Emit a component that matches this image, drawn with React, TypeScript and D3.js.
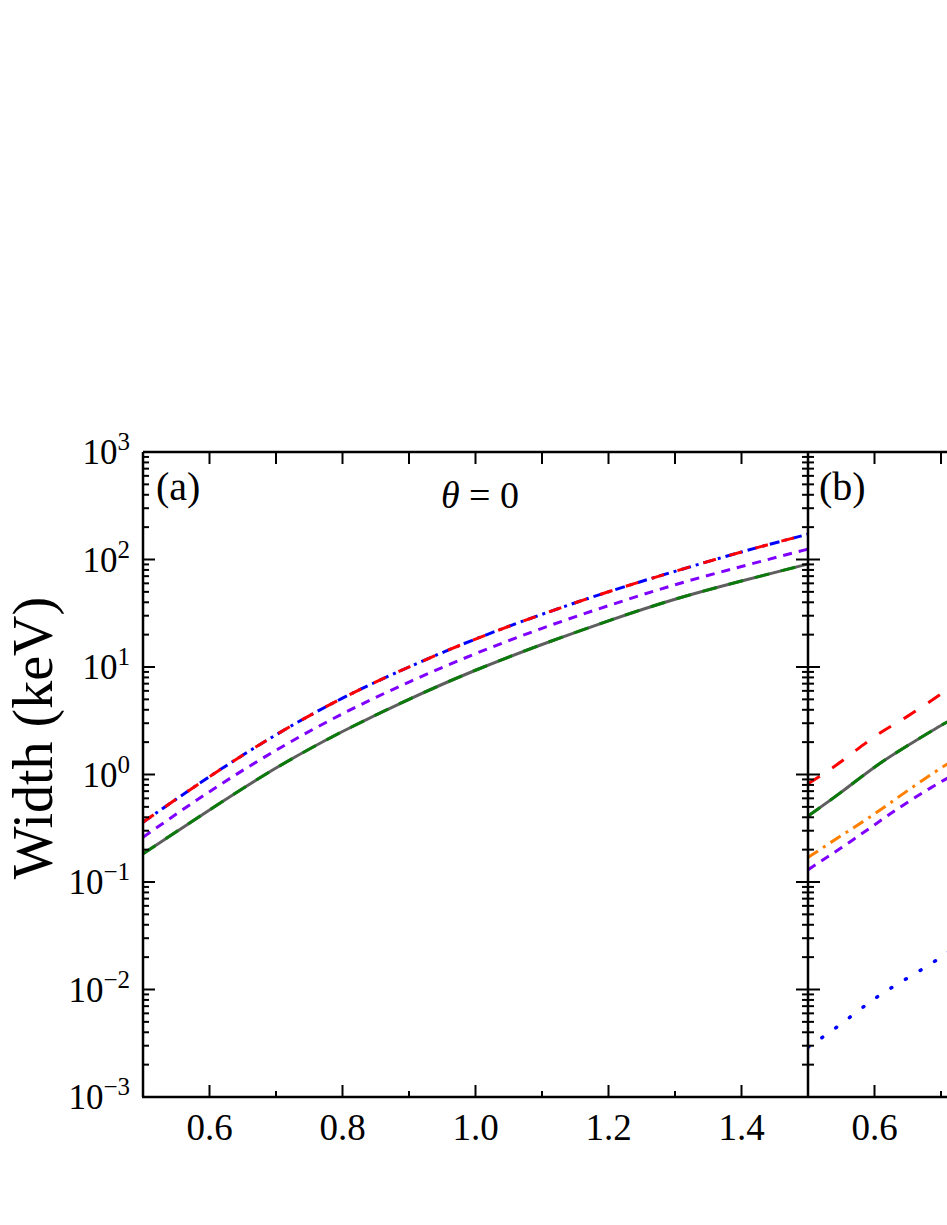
import React, { useEffect, useRef } from 'react'
import * as d3 from 'd3'

// panel (a), theta = 0
const xA = [0.5, 0.6, 0.7, 0.8, 0.9, 1.0, 1.1, 1.2, 1.3, 1.4, 1.5]
const aRed = [0.36, 0.955, 2.34, 5.13, 10.0, 18.2, 30.9, 50.1, 77.6, 117.5, 172]
const aBlue = [0.36, 0.955, 2.34, 5.13, 10.0, 18.2, 30.9, 50.1, 77.6, 117.5, 172]
const aPurple = [0.261, 0.692, 1.68, 3.67, 7.24, 13.3, 22.9, 37.2, 58.2, 86.1, 125]
const aGray = [0.183, 0.468, 1.148, 2.51, 5.01, 9.33, 16.2, 26.9, 42.7, 63.1, 90.8]
const aGreen = [0.183, 0.468, 1.148, 2.51, 5.01, 9.33, 16.2, 26.9, 42.7, 63.1, 90.8]

// panel (b), only the left part is in the picture
const xB = [0.5, 0.55, 0.6, 0.65, 0.7, 0.72]
const bRed = [0.82, 1.32, 2.25, 3.49, 5.6, 6.6]
const bGray = [0.41, 0.685, 1.17, 1.86, 2.86, 3.3]
const bGreen = [0.41, 0.685, 1.17, 1.86, 2.86, 3.3]
const bOrange = [0.169, 0.27, 0.43, 0.71, 1.15, 1.35]
const bPurple = [0.13, 0.208, 0.34, 0.553, 0.855, 0.99]
const bBlue = [0.0029, 0.0048, 0.0082, 0.0128, 0.02, 0.025]

const xMajor = [0.6, 0.8, 1.0, 1.2, 1.4]
const xMinor = [0.7, 0.9, 1.1, 1.3]
const decades = [-3, -2, -1, 0, 1, 2, 3]

const FONT = "'Liberation Serif', 'Times New Roman', Times, serif"

export default function App() {
    const ref = useRef<SVGSVGElement>(null)

    useEffect(() => {
        const svg = d3.select(ref.current)
        svg.selectAll('*').remove()

        const left = 143, mid = 808, top = 452, bottom = 1097
        const pw = mid - left

        const y = d3.scaleLog().domain([1e-3, 1e3]).range([bottom, top])
        const xa = d3.scaleLinear().domain([0.5, 1.5]).range([left, mid])
        const xb = d3.scaleLinear().domain([0.5, 1.5]).range([mid, mid + pw])

        const defs = svg.append('defs')
        defs.append('clipPath').attr('id', 'clipA').append('rect')
            .attr('x', left).attr('y', top).attr('width', pw).attr('height', bottom - top)
        defs.append('clipPath').attr('id', 'clipB').append('rect')
            .attr('x', mid).attr('y', top).attr('width', pw).attr('height', bottom - top)

        const drawSeries = (g, xs, xScale, vals, color, dash, width, cap = 'butt') => {
            const line = d3.line<number>()
                .x((d, i) => xScale(xs[i]))
                .y(d => y(d))
                .curve(d3.curveNatural)
            g.append('path')
                .datum(vals)
                .attr('d', line)
                .attr('fill', 'none')
                .attr('stroke', color)
                .attr('stroke-width', width)
                .attr('stroke-dasharray', dash)
                .attr('stroke-linecap', cap)
        }

        const gA = svg.append('g').attr('clip-path', 'url(#clipA)')
        drawSeries(gA, xA, xa, aGray, '#5e5e5e', null, 3)
        drawSeries(gA, xA, xa, aGreen, '#0a7a0a', '15 12', 3)
        drawSeries(gA, xA, xa, aPurple, '#8000ff', '9 7', 3)
        drawSeries(gA, xA, xa, aBlue, '#0000ff', '10 5 3 5', 3)
        drawSeries(gA, xA, xa, aRed, '#ff0000', '13 14', 3)

        const gB = svg.append('g').attr('clip-path', 'url(#clipB)')
        drawSeries(gB, xB, xb, bGray, '#5e5e5e', null, 3)
        drawSeries(gB, xB, xb, bGreen, '#0a7a0a', '15 12', 3)
        drawSeries(gB, xB, xb, bOrange, '#ff8000', '12 6 3 6', 3)
        drawSeries(gB, xB, xb, bPurple, '#8000ff', '9 7', 3)
        drawSeries(gB, xB, xb, bRed, '#ff0000', '14 15', 3)
        drawSeries(gB, xB, xb, bBlue, '#0000ff', '1 16', 3.5, 'round')

        // frame
        const axes = svg.append('g').attr('stroke', '#000').attr('fill', 'none')
        axes.append('line').attr('x1', left).attr('x2', 947).attr('y1', top).attr('y2', top).attr('stroke-width', 2.5)
        axes.append('line').attr('x1', left - 1).attr('x2', 947).attr('y1', bottom).attr('y2', bottom).attr('stroke-width', 2.5)
        axes.append('line').attr('x1', left).attr('x2', left).attr('y1', top).attr('y2', bottom).attr('stroke-width', 2.5)
        axes.append('line').attr('x1', mid).attr('x2', mid).attr('y1', top).attr('y2', bottom).attr('stroke-width', 2.5)

        // x ticks, both panels
        const tickX = (xScale, vals, len) => {
            vals.forEach(v => {
                const px = xScale(v)
                axes.append('line').attr('x1', px).attr('x2', px)
                    .attr('y1', bottom).attr('y2', bottom - len).attr('stroke-width', 2)
            })
        }
        tickX(xa, xMajor, 12)
        tickX(xa, xMinor, 6)
        tickX(xb, [0.6], 12)
        tickX(xb, [0.7], 6)
        // top ticks are all the same length
        ;[xa, xb].forEach(s => {
            d3.range(0.6, 1.45, 0.1).forEach(v => {
                const px = s(v)
                axes.append('line').attr('x1', px).attr('x2', px)
                    .attr('y1', top).attr('y2', top + 12).attr('stroke-width', 2)
            })
        })

        // y ticks: left axis inward, shared axis on both sides
        decades.forEach(d => {
            const major = Math.pow(10, d)
            const py = y(major)
            axes.append('line').attr('x1', left).attr('x2', left + 12).attr('y1', py).attr('y2', py).attr('stroke-width', 2)
            axes.append('line').attr('x1', mid - 12).attr('x2', mid + 12).attr('y1', py).attr('y2', py).attr('stroke-width', 2)
            if (d === 3) return
            d3.range(2, 10).forEach(m => {
                const my = y(m * major)
                axes.append('line').attr('x1', left).attr('x2', left + 6).attr('y1', my).attr('y2', my).attr('stroke-width', 2)
                axes.append('line').attr('x1', mid - 6).attr('x2', mid + 6).attr('y1', my).attr('y2', my).attr('stroke-width', 2)
            })
        })

        const labels = svg.append('g').style('font-family', FONT).attr('fill', '#000')

        // x tick labels
        const fmt = d3.format('.1f')
        xMajor.forEach(v => {
            labels.append('text').attr('x', xa(v)).attr('y', 1140)
                .attr('text-anchor', 'middle').attr('font-size', 37).text(fmt(v))
        })
        labels.append('text').attr('x', xb(0.6)).attr('y', 1140)
            .attr('text-anchor', 'middle').attr('font-size', 37).text(fmt(0.6))

        // y tick labels 10^n
        decades.forEach(d => {
            const t = labels.append('text').attr('x', 130).attr('y', y(Math.pow(10, d)) + 12)
                .attr('text-anchor', 'end').attr('font-size', 35)
            t.append('tspan').text('10')
            t.append('tspan').attr('dy', -14).attr('font-size', 25)
                .text(d < 0 ? '\u2212' + Math.abs(d) : String(d))
        })

        // axis title
        labels.append('text')
            .attr('transform', `translate(52, 738) rotate(-90)`)
            .attr('text-anchor', 'middle').attr('font-size', 56)
            .text('Width (keV)')

        labels.append('text').attr('x', 156).attr('y', 500).attr('font-size', 40).text('(a)')
        labels.append('text').attr('x', 819).attr('y', 500).attr('font-size', 40).text('(b)')

        const th = labels.append('text').attr('x', 480).attr('y', 508)
            .attr('text-anchor', 'middle').attr('font-size', 38)
        th.append('tspan').attr('font-style', 'italic').text('\u03b8')
        th.append('tspan').text(' = 0')
    }, [])

    return (
        <svg ref={ref} width={947} height={1225}
            style={{ position: 'absolute', left: 0, top: 0, background: '#fff' }}>
        </svg>
    )
}
